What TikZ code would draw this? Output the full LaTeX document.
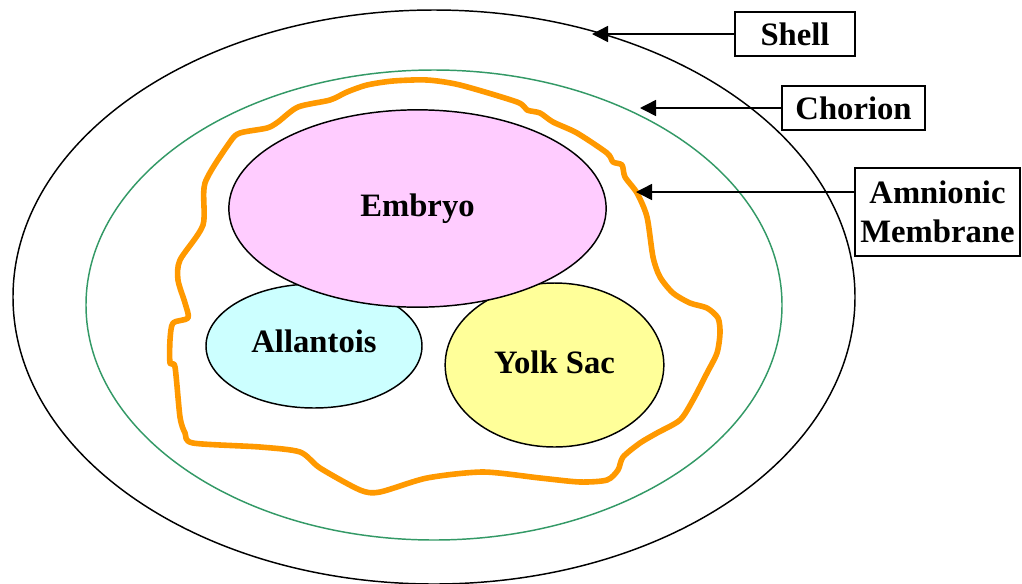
\documentclass[tikz,border=0pt]{standalone}
\usepackage{fontspec}
\setmainfont{Liberation Serif}
\usetikzlibrary{arrows.meta,shapes.geometric}
\definecolor{embryopink}{HTML}{FFCCFF}
\definecolor{allantoiscyan}{HTML}{CCFFFF}
\definecolor{yolkyellow}{HTML}{FFFF99}
\definecolor{chorgreen}{HTML}{339966}
\definecolor{amnionorange}{HTML}{FF9900}
\tikzset{
  labelfont/.style={font=\fontsize{24.5}{29}\selectfont\bfseries},
  sac/.style={ellipse, draw=black, line width=1.1pt, inner sep=0pt, labelfont},
  tag/.style={draw=black, line width=1.1pt, fill=white, inner sep=0pt, align=center, labelfont},
  pointer/.style={line width=1.1pt, -{Triangle[length=12pt,width=12pt]}},
}
\begin{document}
\begin{tikzpicture}[x=0.75pt,y=-0.75pt]
\useasboundingbox (0,0) rectangle (1022,583);

% shell and chorion
\draw[line width=1.1pt] (434,297) ellipse [x radius=421, y radius=287];
\draw[chorgreen, line width=1.1pt] (434,305) ellipse [x radius=348, y radius=235];

% amnionic membrane
\draw[amnionorange, line width=4.2pt, line join=round]
  plot[smooth cycle, tension=0.45] coordinates {
  (180,260) (203,225) (205,183) (230,142) (240,133) (267,128) (278,122)
  (298,107) (330,100) (347,92) (367,85) (393,81) (427,80) (460,85)
  (517,102) (527,110) (540,113) (553,122) (577,133) (607,153) (613,162)
  (622,165) (625,177) (637,193) (647,217) (653,257) (660,277) (673,293)
  (690,303) (707,308) (718,318) (720,333) (717,353) (707,373) (693,400)
  (680,420) (657,433) (640,443) (623,457) (618,470) (607,480) (580,482)
  (540,478) (483,472) (427,478) (380,492) (360,490) (320,468) (300,452)
  (260,447) (193,443) (185,433) (180,417) (175,367) (170,363) (170,340)
  (173,323) (188,318) (185,303) (178,280)};

% sacs
\node[sac, fill=allantoiscyan, minimum width=162pt, minimum height=93pt] (allantois) at (314,346) {};
\node[labelfont] (allantoistext) at (314,341) {Allantois};
\node[sac, fill=yolkyellow, minimum width=164pt, minimum height=123pt] (yolk) at (554.5,365) {};
\node[labelfont] (yolktext) at (554.5,362) {Yolk Sac};
\node[sac, fill=embryopink, minimum width=283pt, minimum height=148pt] (embryo) at (417.5,208.5) {Embryo};

% pointer targets
\coordinate (shellpt) at (592,34);
\coordinate (chorpt) at (640,108);
\coordinate (amnpt) at (636,192);

% labels
\node[tag, minimum width=90pt, minimum height=33pt] (shell) at (795,34) {Shell};
\node[tag, minimum width=107pt, minimum height=33pt] (chorion) at (853.5,108) {Chorion};
\node[tag, minimum width=124pt, minimum height=66pt] (amnion) at (937.5,212) {Amnionic\\Membrane};

\draw[pointer] (shell.west) -- (shellpt);
\draw[pointer] (chorion.west) -- (chorpt);
\draw[pointer] (amnion.west |- amnpt) -- (amnpt);
\end{tikzpicture}
\end{document}
